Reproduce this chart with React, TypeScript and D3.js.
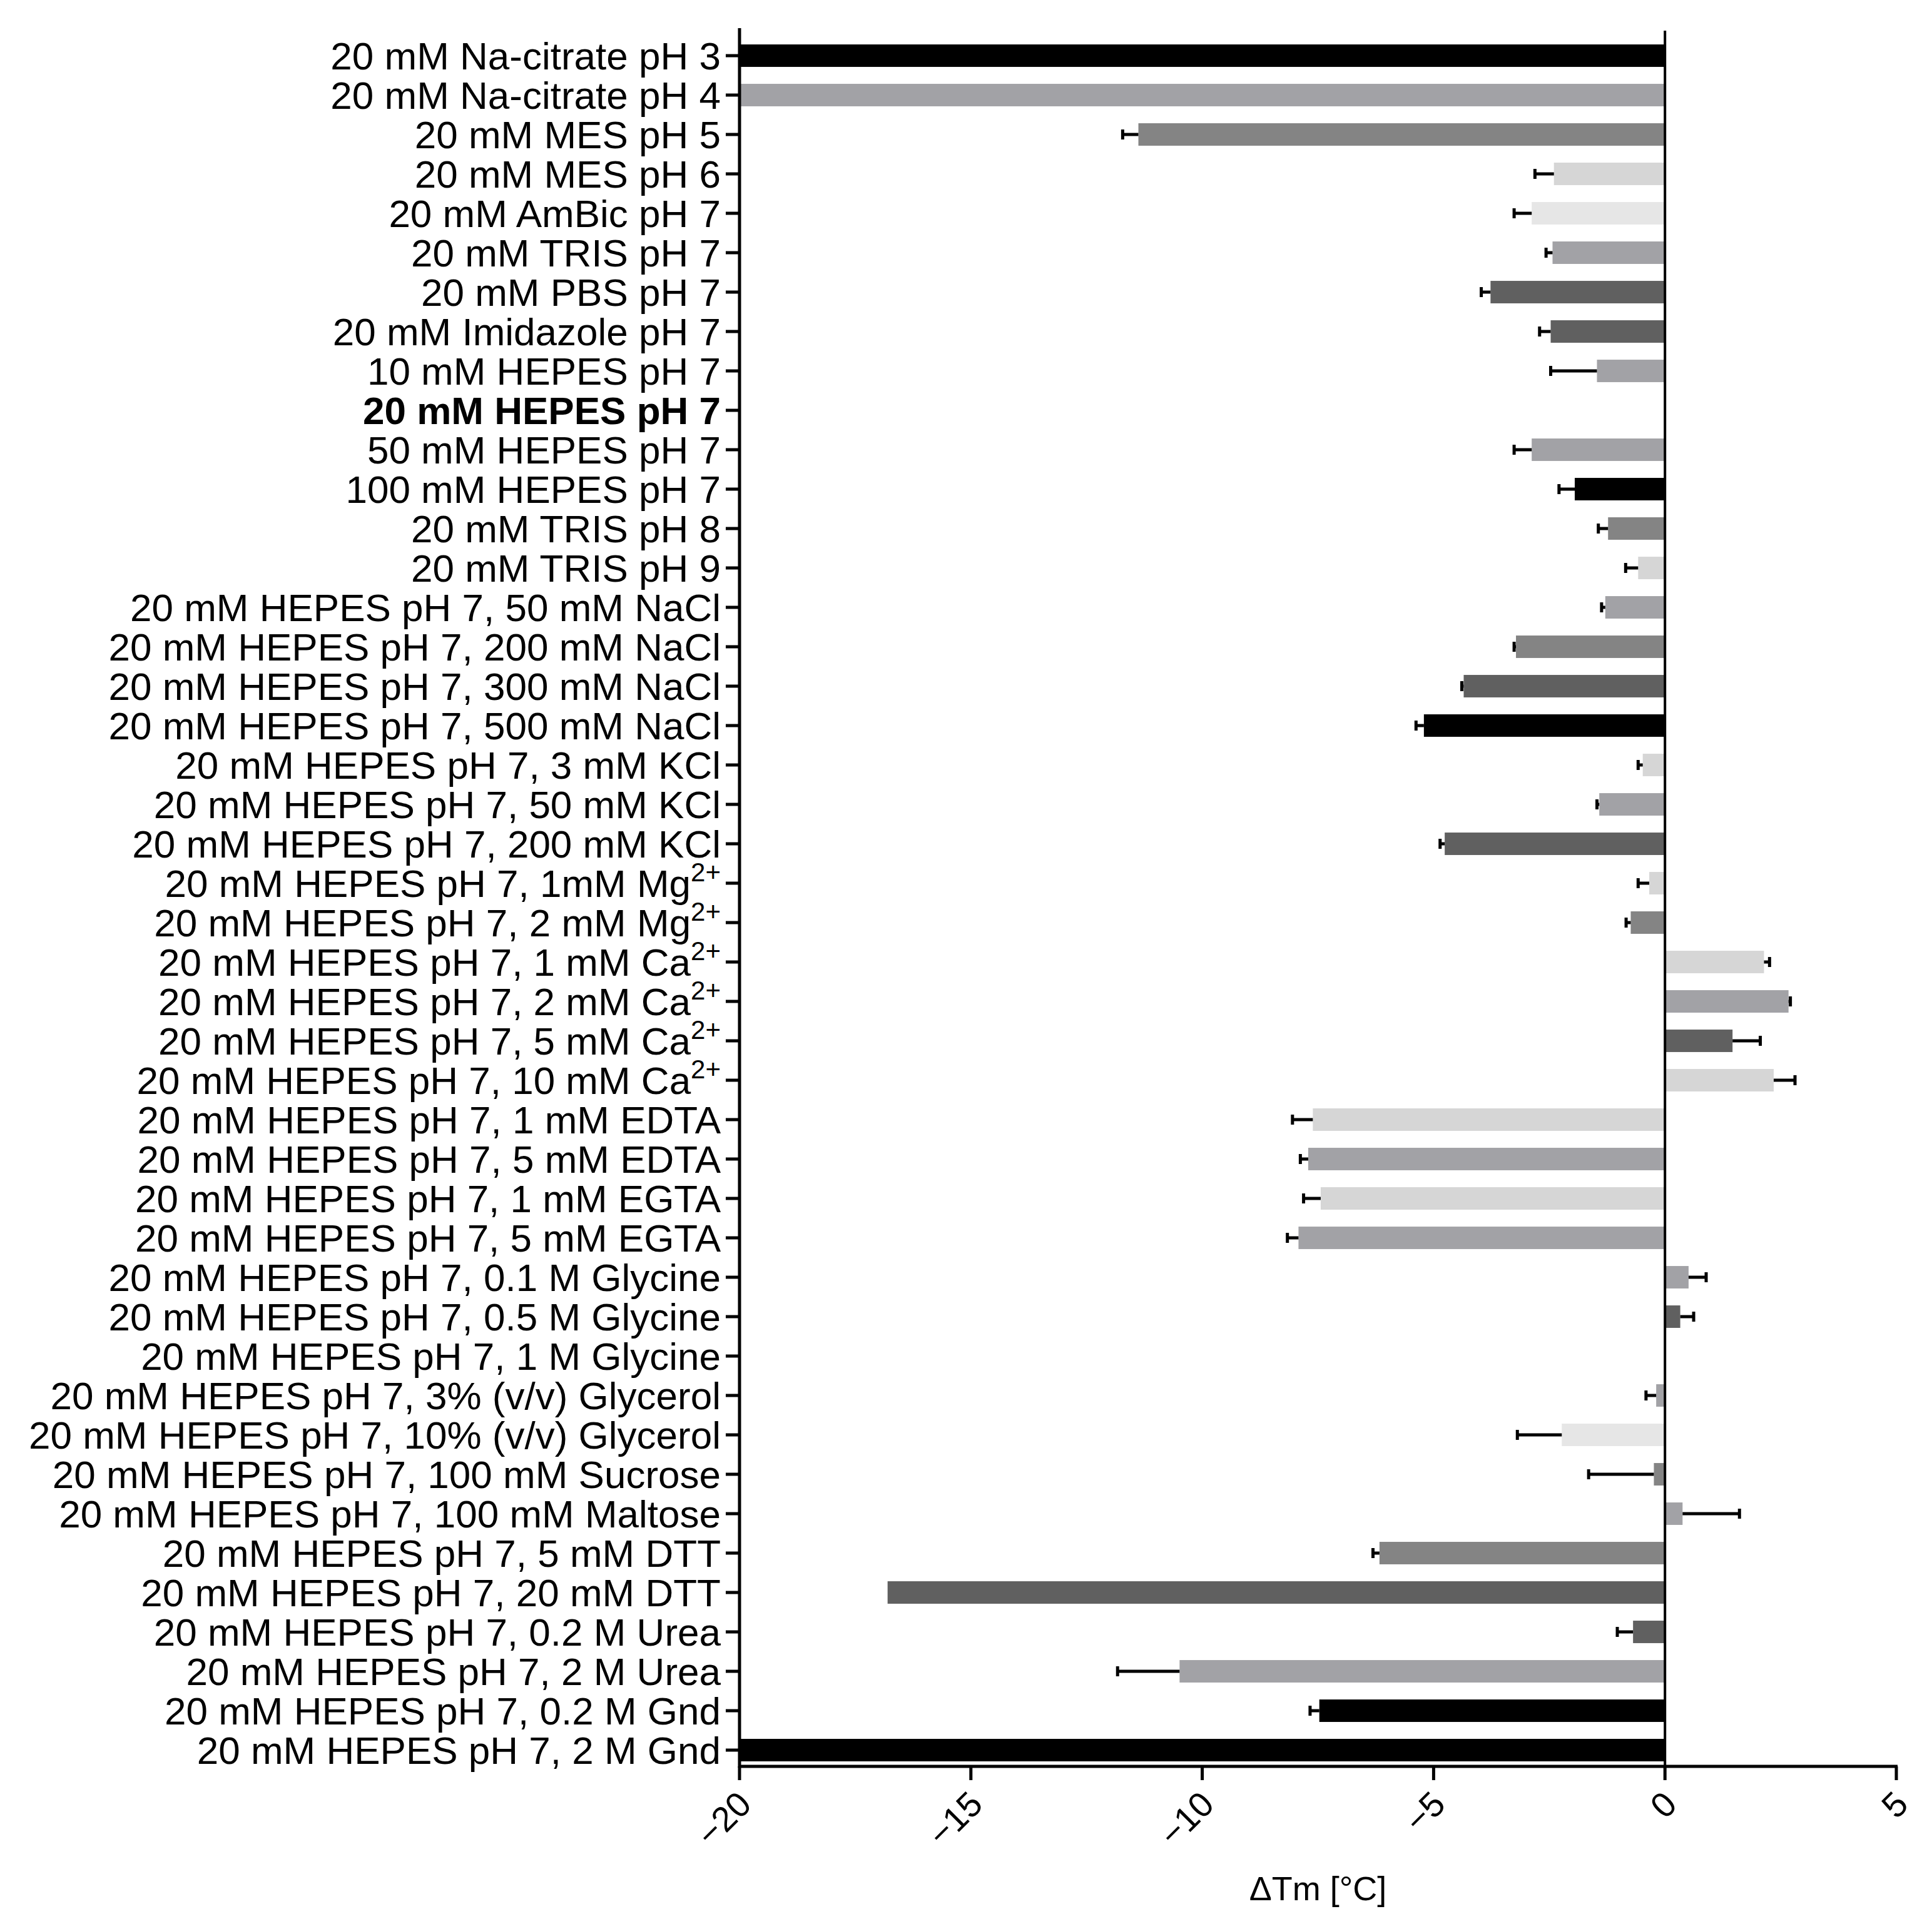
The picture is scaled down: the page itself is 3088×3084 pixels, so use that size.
import * as d3 from "d3";
import { useEffect, useRef } from "react";

// buffer / additive conditions, top to bottom ("^" marks a superscript)
const conditions = [
  "20 mM Na-citrate pH 3",
  "20 mM Na-citrate pH 4",
  "20 mM MES pH 5",
  "20 mM MES pH 6",
  "20 mM AmBic pH 7",
  "20 mM TRIS pH 7",
  "20 mM PBS pH 7",
  "20 mM Imidazole pH 7",
  "10 mM HEPES pH 7",
  "20 mM HEPES pH 7",
  "50 mM HEPES pH 7",
  "100 mM HEPES pH 7",
  "20 mM TRIS pH 8",
  "20 mM TRIS pH 9",
  "20 mM HEPES pH 7, 50 mM NaCl",
  "20 mM HEPES pH 7, 200 mM NaCl",
  "20 mM HEPES pH 7, 300 mM NaCl",
  "20 mM HEPES pH 7, 500 mM NaCl",
  "20 mM HEPES pH 7, 3 mM KCl",
  "20 mM HEPES pH 7, 50 mM KCl",
  "20 mM HEPES pH 7, 200 mM KCl",
  "20 mM HEPES pH 7, 1mM Mg^2+",
  "20 mM HEPES pH 7, 2 mM Mg^2+",
  "20 mM HEPES pH 7, 1 mM Ca^2+",
  "20 mM HEPES pH 7, 2 mM Ca^2+",
  "20 mM HEPES pH 7, 5 mM Ca^2+",
  "20 mM HEPES pH 7, 10 mM Ca^2+",
  "20 mM HEPES pH 7, 1 mM EDTA",
  "20 mM HEPES pH 7, 5 mM EDTA",
  "20 mM HEPES pH 7, 1 mM EGTA",
  "20 mM HEPES pH 7, 5 mM EGTA",
  "20 mM HEPES pH 7, 0.1 M Glycine",
  "20 mM HEPES pH 7, 0.5 M Glycine",
  "20 mM HEPES pH 7, 1 M Glycine",
  "20 mM HEPES pH 7, 3% (v/v) Glycerol",
  "20 mM HEPES pH 7, 10% (v/v) Glycerol",
  "20 mM HEPES pH 7, 100 mM Sucrose",
  "20 mM HEPES pH 7, 100 mM Maltose",
  "20 mM HEPES pH 7, 5 mM DTT",
  "20 mM HEPES pH 7, 20 mM DTT",
  "20 mM HEPES pH 7, 0.2 M Urea",
  "20 mM HEPES pH 7, 2 M Urea",
  "20 mM HEPES pH 7, 0.2 M Gnd",
  "20 mM HEPES pH 7, 2 M Gnd",
];

const referenceCondition = "20 mM HEPES pH 7";

// ΔTm in °C
const deltaTm = [
  -20, -20, -11.38, -2.4, -2.88, -2.43, -3.77, -2.47, -1.47, 0,
  -2.88, -1.95, -1.23, -0.58, -1.29, -3.22, -4.35, -5.21, -0.48, -1.42,
  -4.76, -0.34, -0.74, 2.14, 2.67, 1.46, 2.35, -7.61, -7.71, -7.44,
  -7.92, 0.51, 0.33, 0, -0.19, -2.23, -0.24, 0.38, -6.17, -16.8,
  -0.69, -10.49, -7.47, -20,
];

// error (one-sided bars)
const deltaTmErr = [
  0, 0, 0.34, 0.41, 0.38, 0.14, 0.2, 0.24, 1.0, 0,
  0.38, 0.34, 0.21, 0.27, 0.08, 0.04, 0.04, 0.17, 0.1, 0.05,
  0.1, 0.24, 0.1, 0.12, 0.04, 0.6, 0.46, 0.44, 0.17, 0.37,
  0.24, 0.38, 0.29, 0, 0.22, 0.96, 1.41, 1.23, 0.14, 0,
  0.34, 1.34, 0.2, 0,
];

const xTicks = [-20, -15, -10, -5, 0, 5];

const BLACK = "#000000";
const DARK = "#606060";
const MID = "#848484";
const GREY = "#a2a2a6";
const LIGHT = "#d6d6d6";
const PALE = "#e6e6e6";

const barShades = [
  BLACK, GREY, MID, LIGHT, PALE, GREY, DARK, DARK, GREY, GREY,
  GREY, BLACK, MID, LIGHT, GREY, MID, DARK, BLACK, LIGHT, GREY,
  DARK, LIGHT, MID, LIGHT, GREY, DARK, LIGHT, LIGHT, GREY, LIGHT,
  GREY, GREY, DARK, GREY, GREY, PALE, MID, GREY, MID, DARK,
  DARK, GREY, BLACK, BLACK,
];

const FONT = "'Liberation Sans', Arial, Helvetica, sans-serif";

const App = () => {
  const svgRef = useRef(null);

  useEffect(() => {
    const width = 3088;
    const height = 3084;
    const left = 1182;
    const right = 3031;
    const top = 45;
    const axisY = 2824;

    const svg = d3.select(svgRef.current);
    svg.selectAll("*").remove();
    svg.attr("width", width).attr("height", height);

    const x = d3.scaleLinear().domain([-20, 5]).range([left, right]);
    const y = d3
      .scaleBand()
      .domain(conditions)
      .range([57.5, 2829.5])
      .paddingInner(0.43)
      .paddingOuter(0.215);

    const rows = conditions.map((c, i) => ({
      c,
      v: deltaTm[i],
      e: deltaTmErr[i],
      fill: barShades[i],
    }));

    // bars
    svg
      .append("g")
      .selectAll("rect")
      .data(rows.filter((d) => d.v !== 0))
      .enter()
      .append("rect")
      .attr("x", (d) => Math.min(x(d.v), x(0)))
      .attr("width", (d) => Math.abs(x(d.v) - x(0)))
      .attr("y", (d) => y(d.c))
      .attr("height", y.bandwidth())
      .attr("fill", (d) => d.fill);

    // error bars
    const errs = svg
      .append("g")
      .attr("stroke", "#000")
      .attr("stroke-width", 5)
      .selectAll("g")
      .data(rows.filter((d) => d.e > 0))
      .enter()
      .append("g");
    const cy = (d) => y(d.c) + y.bandwidth() / 2;
    const tip = (d) => x(d.v + Math.sign(d.v) * d.e);
    errs
      .append("line")
      .attr("x1", (d) => x(d.v))
      .attr("x2", tip)
      .attr("y1", cy)
      .attr("y2", cy);
    errs
      .append("line")
      .attr("x1", tip)
      .attr("x2", tip)
      .attr("y1", (d) => cy(d) - 8)
      .attr("y2", (d) => cy(d) + 8);

    // zero line
    svg
      .append("line")
      .attr("x1", x(0))
      .attr("x2", x(0))
      .attr("y1", 49)
      .attr("y2", axisY)
      .attr("stroke", "#000")
      .attr("stroke-width", 4);

    // y axis
    const yAxis = svg.append("g");
    yAxis
      .append("line")
      .attr("x1", left)
      .attr("x2", left)
      .attr("y1", top)
      .attr("y2", axisY + 2)
      .attr("stroke", "#000")
      .attr("stroke-width", 5);
    yAxis
      .selectAll("line.tick")
      .data(conditions)
      .enter()
      .append("line")
      .attr("class", "tick")
      .attr("x1", left - 22)
      .attr("x2", left)
      .attr("y1", (c) => y(c) + y.bandwidth() / 2)
      .attr("y2", (c) => y(c) + y.bandwidth() / 2)
      .attr("stroke", "#000")
      .attr("stroke-width", 5);

    const labels = yAxis
      .selectAll("text")
      .data(conditions)
      .enter()
      .append("text")
      .attr("x", left - 30)
      .attr("y", (c) => y(c) + y.bandwidth() / 2)
      .attr("dy", "0.36em")
      .attr("text-anchor", "end")
      .attr("font-family", FONT)
      .attr("font-size", 62)
      .attr("font-weight", (c) => (c === referenceCondition ? "bold" : "normal"))
      .attr("fill", "#000");
    labels.each(function (c) {
      const [main, sup] = c.split("^");
      const t = d3.select(this);
      t.append("tspan").text(main);
      if (sup) {
        t.append("tspan")
          .attr("dy", "-0.6em")
          .attr("font-size", 42)
          .text(sup);
      }
    });

    // x axis
    const xAxis = svg.append("g");
    xAxis
      .append("line")
      .attr("x1", left - 2)
      .attr("x2", right + 2)
      .attr("y1", axisY)
      .attr("y2", axisY)
      .attr("stroke", "#000")
      .attr("stroke-width", 5);
    xAxis
      .selectAll("line.tick")
      .data(xTicks)
      .enter()
      .append("line")
      .attr("class", "tick")
      .attr("x1", (d) => x(d))
      .attr("x2", (d) => x(d))
      .attr("y1", axisY)
      .attr("y2", axisY + 22)
      .attr("stroke", "#000")
      .attr("stroke-width", 5);
    xAxis
      .selectAll("text")
      .data(xTicks)
      .enter()
      .append("text")
      .attr("transform", (d) => `translate(${x(d) + 22}, 2888) rotate(-45)`)
      .attr("text-anchor", "end")
      .attr("font-family", FONT)
      .attr("font-size", 56)
      .attr("fill", "#000")
      .text((d) => (d < 0 ? "\u2212" + Math.abs(d) : String(d)));

    svg
      .append("text")
      .attr("x", (left + right) / 2)
      .attr("y", 3038)
      .attr("text-anchor", "middle")
      .attr("font-family", FONT)
      .attr("font-size", 54)
      .attr("fill", "#000")
      .text("ΔTm [°C]");
  }, []);

  return (
    <svg
      ref={svgRef}
      style={{ position: "absolute", left: 0, top: 0, background: "#fff" }}
    ></svg>
  );
};

export default App;
